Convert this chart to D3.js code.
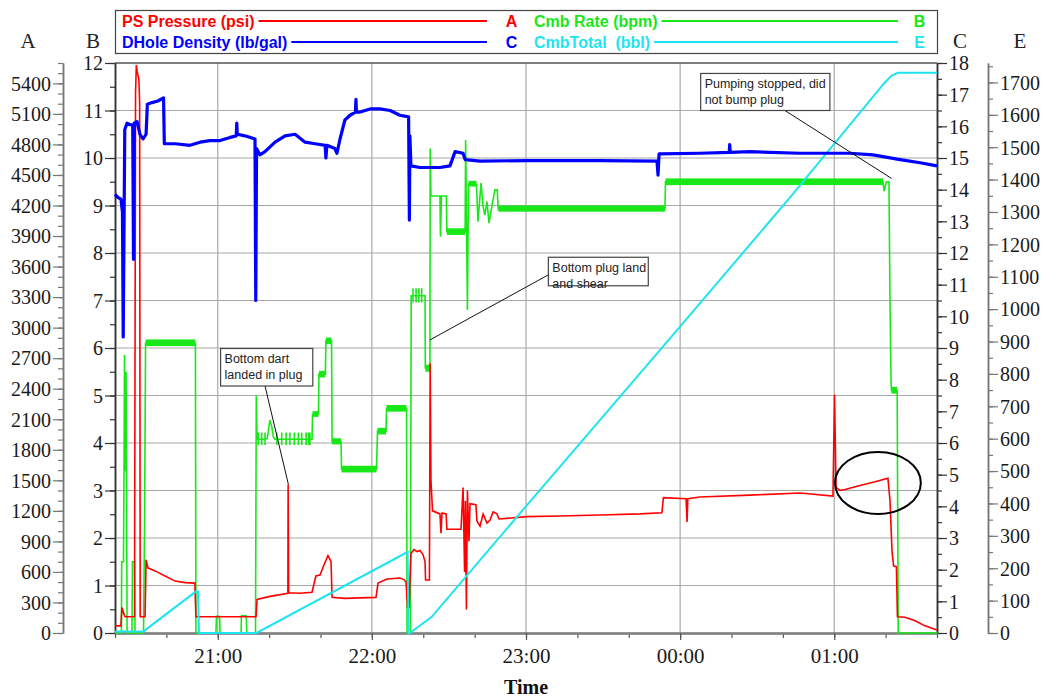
<!DOCTYPE html>
<html>
<head>
<meta charset="utf-8">
<script src="https://cdn.jsdelivr.net/npm/d3@7"></script>
<style>
  body { margin: 0; background: #fff; }
  svg { display: block; }
</style>
</head>
<body>
<svg id="chart" width="1047" height="698"></svg>
<script>
// ---- Data: times are minutes after 20:00 (values past 240 run into the next day) ----
const timeDomain = [20, 340];               // 20:20 -> 01:40

// PS Pressure (psi), left axis A
const pressure = [
  [20.0,70],[22.3,70],[22.7,250],[23.3,200],[23.9,160],[27.6,160],[28.0,5300],[28.3,5580],
  [28.6,5520],[29.3,5440],[29.6,5200],[29.8,160],[31.7,160],[32.1,720],[32.8,640],[35.6,610],
  [39.5,560],[43.4,510],[47.3,495],[51.1,490],[51.5,160],[74.9,160],[75.3,330],[80.3,360],
  [87.3,390],[87.4,1460],[87.6,395],[92.0,390],[96.7,400],[98.2,560],[99.8,570],[101.7,690],
  [102.9,760],[104.1,700],[104.5,350],[109.5,340],[115.4,345],[121.6,350],[122.4,490],
  [125.9,530],[130.9,540],[132.5,525],[133.3,500],[133.9,250],[134.5,250],[135.2,780],
  [136.4,820],[137.6,800],[138.7,810],[139.9,770],[140.7,700],[140.9,520],[142.4,520],
  [142.7,2650],[143.0,1500],[143.6,1200],[146.5,1170],[146.9,980],[147.3,1180],[148.9,1170],
  [149.2,1020],[154.7,1020],[155.5,1430],[156.1,600],[156.4,1300],[156.8,230],[157.2,1400],
  [157.8,900],[158.2,1270],[160.5,1260],[160.9,1100],[162.1,1050],[163.3,1170],[164.8,1080],
  [166.0,1110],[167.2,1190],[168.7,1170],[169.5,1120],[180.4,1143],[193.2,1150],[208.8,1160],
  [224.4,1170],[232.9,1182],[233.5,1330],[242.3,1320],[242.7,1090],[243.0,1320],[247.7,1336],
  [267.2,1355],[286.7,1375],[299.5,1345],[300.1,2340],[300.7,1430],[302.2,1400],[304.2,1410],
  [310.0,1450],[315.9,1485],[320.9,1520],[321.7,1300],[322.5,800],[323.1,660],[324.2,650],
  [324.6,160],[327.5,155],[331.5,120],[335.3,70],[340.0,30]
];

// Cmb Rate (bpm), axis B
const rate = [
  [20.0,0],[22.5,0],[22.6,1.5],[23.3,1.5],[23.5,3.4],[23.7,5.85],[24.0,3.4],[24.3,5.5],
  [24.5,3.4],[24.7,0],[26.6,0],[26.8,1.5],[27.6,1.5],[27.8,0],[31.1,0],[31.5,2.2],[31.9,6.1],
  [51.3,6.1],[51.5,0],[59.3,0],[59.5,0.35],[60.7,0.35],[60.9,0],[69.1,0],[69.2,0.36],
  [71.1,0.36],[71.3,0],[74.7,0],[75.0,5.0],[75.3,4.08],
  [75.8,4.08],[75.8,4.22],[75.8,3.96],[75.8,4.08],
  [77.1,4.08],[77.1,4.22],[77.1,3.96],[77.1,4.08],
  [78.4,4.08],[78.4,4.22],[78.4,3.96],[78.4,4.08],
  [79.3,4.1],[79.8,4.3],[80.3,4.48],[81.0,4.35],[81.7,4.12],[82.3,4.08],
  [83.0,4.08],[83.0,4.22],[83.0,3.96],[83.0,4.08],
  [84.9,4.08],[84.9,4.22],[84.9,3.96],[84.9,4.08],
  [86.6,4.08],[86.6,4.22],[86.6,3.96],[86.6,4.08],
  [88.1,4.08],[88.1,4.22],[88.1,3.96],[88.1,4.08],
  [89.8,4.08],[89.8,4.22],[89.8,3.96],[89.8,4.08],
  [91.4,4.08],[91.4,4.22],[91.4,3.96],[91.4,4.08],
  [92.7,4.08],[92.7,4.22],[92.7,3.96],[92.7,4.08],
  [94.4,4.08],[94.4,4.22],[94.4,3.96],[94.4,4.08],
  [95.3,4.08],[95.3,4.22],[95.3,3.96],[95.3,4.08],
  [95.9,4.08],[95.9,4.22],[95.9,3.96],[95.9,4.08],
  [96.7,4.08],[96.9,4.6],[99.2,4.6],[99.4,5.45],[101.9,5.45],[102.1,6.15],[104.3,6.15],
  [104.5,4.03],[108.0,4.03],[108.2,3.45],[121.8,3.45],[122.2,4.25],[125.5,4.25],[125.7,4.73],
  [133.5,4.73],[133.7,0],[135.0,0],[135.3,7.1],
  [136.0,7.1],[136.0,7.26],[136.0,6.96],[136.0,7.1],
  [137.2,7.1],[137.2,7.26],[137.2,6.96],[137.2,7.1],
  [138.3,7.1],[138.3,7.26],[138.3,6.96],[138.3,7.1],
  [139.4,7.1],[139.4,7.26],[139.4,6.96],[139.4,7.1],
  [140.7,7.1],[140.8,5.58],[142.6,5.58],[142.7,10.2],[143.0,9.2],[146.5,9.2],[146.7,8.34],
  [147.1,9.2],[149.0,9.2],[149.2,8.45],[156.3,8.45],[156.5,10.38],[157.2,6.8],[157.6,9.45],
  [160.7,9.45],[161.3,8.66],[162.5,9.47],[163.3,8.97],[164.0,8.8],[164.8,9.08],[165.6,8.63],
  [166.6,8.95],[167.9,9.33],[168.8,9.33],[169.2,8.93],[234.1,8.93],[234.3,9.5],[319.0,9.5],
  [319.4,9.3],[320.3,9.5],[321.3,9.5],[321.7,7.0],[322.1,5.3],[322.3,5.1],[324.5,5.1],
  [324.9,0],[340.0,0]
];

// Stretches where the rate flickers between two readings: [start, end, low, high]
const rateBands = [
  [31.9,51.3,6.04,6.18],[96.9,99.2,4.55,4.67],[99.4,101.9,5.38,5.52],[102.1,104.3,6.08,6.22],
  [104.5,108.0,3.97,4.10],[108.2,121.8,3.38,3.52],[122.2,125.5,4.18,4.32],[125.7,133.5,4.66,4.80],
  [140.8,142.6,5.50,5.65],[149.2,156.3,8.38,8.52],[157.6,160.7,9.40,9.52],[169.2,234.1,8.87,9.00],
  [234.3,319.0,9.43,9.57],[322.3,324.5,5.04,5.18]
];

// DHole Density (lb/gal), right axis C
const density = [
  [20.0,13.85],[21.2,13.75],[22.3,13.7],[22.9,13.3],[23.2,9.35],[23.8,15.9],[24.7,16.1],
  [25.8,16.05],[26.9,16.05],[27.2,11.8],[27.5,16.1],[28.6,16.15],[29.7,15.75],[30.9,15.6],
  [32.1,15.75],[32.6,16.7],[34.4,16.75],[36.7,16.8],[38.9,16.9],[39.2,15.45],[43.4,15.45],
  [49.2,15.4],[53.1,15.5],[57.0,15.55],[60.9,15.55],[64.8,15.65],[67.2,15.7],[67.4,16.1],
  [67.6,15.75],[70.6,15.7],[74.5,15.6],[74.8,10.5],[75.1,15.3],[76.4,15.1],[78.4,15.2],
  [82.3,15.5],[86.2,15.7],[90.1,15.75],[94.0,15.5],[97.9,15.45],[101.8,15.4],[102.1,15.0],
  [102.5,15.4],[105.6,15.3],[106.4,15.15],[107.6,15.6],[109.5,16.2],[111.5,16.35],
  [113.6,16.45],[113.8,16.85],[114.0,16.45],[115.4,16.45],[119.3,16.55],[123.2,16.55],
  [127.1,16.5],[130.9,16.35],[134.3,16.3],[134.6,13.04],[134.8,15.7],[135.2,14.75],
  [138.7,14.7],[146.5,14.7],[150.4,14.75],[152.4,15.2],[155.5,15.15],[156.3,14.95],
  [162.1,14.9],[180.4,14.92],[208.8,14.92],[231.0,14.9],[231.4,14.46],[231.8,15.13],
  [247.7,15.15],[259.1,15.18],[259.3,15.42],[259.5,15.18],[267.2,15.2],[286.7,15.15],
  [306.1,15.15],[315.1,15.1],[325.6,14.95],[333.4,14.85],[340.0,14.75]
];

// CmbTotal (bbl), far right axis E
const cmbTotal = [
  [20.0,5],[31.1,5],[51.3,127],[52.3,127],[52.7,0],[75.1,0],[133.9,250],[134.3,0],[134.8,0],
  [143.3,50],[180.4,395],[239.9,945],[282.8,1345],[319.7,1700],[322.5,1722],[324.8,1730],
  [340.0,1730]
];

// Axis tick values
const ticksA = d3.range(0, 5401, 300), minorA = d3.range(0, 5601, 100);
const ticksB = d3.range(0, 13, 1),     minorB = d3.range(0, 12.01, 0.5);
const ticksC = d3.range(0, 19, 1),     minorC = d3.range(0, 18.01, 0.5);
const ticksE = d3.range(0, 1701, 100), minorE = d3.range(0, 1751, 50);

// Event notes: box corners in (minutes, bpm), leader from box edge to a data point
const notes = [
  { lines: ["Pumping stopped, did", "not bump plug"], box: [248.0, 11.78, 298.3, 11.0],
    from: [280.8, 11.0], to: [322.3, "B", 9.57] },
  { lines: ["Bottom plug land", "and shear"], box: [188.7, 7.91, 227.6, 7.31],
    from: [188.7, 7.54], to: [142.6, "B", 6.17] },
  { lines: ["Bottom dart", "landed in plug"], box: [61.1, 5.99, 97.0, 5.20],
    from: [78.4, 5.20], to: [87.5, "A", 1460] }
];
// Pressure rise after pumping resumed, circled: centre (minutes, psi) and half-extents
const circled = { t: 317.0, p: 1474, dt: 16.7, dp: 305 };

// ---- Layout ----
const L = 115, R = 937, T = 63, B = 633;
const col = { A: "#ff0000", B: "#18e818", C: "#0000ff", E: "#1ee4f0" };
const serif = "'Liberation Serif', 'Times New Roman', serif";
const sans = "'Liberation Sans', Arial, sans-serif";

const base = new Date(2021, 0, 1, 20, 0, 0).getTime();
const toDate = m => new Date(base + m * 60000);

const x = d3.scaleTime().domain(timeDomain.map(toDate)).range([L, R]);
const yA = d3.scaleLinear().domain([0, 5600]).range([B, T]);
const yB = d3.scaleLinear().domain([0, 12]).range([B, T]);
const yC = d3.scaleLinear().domain([0, 18]).range([B, T]);
const yE = d3.scaleLinear().domain([0, 1760]).range([B, T]);
const yOf = { A: yA, B: yB, C: yC, E: yE };

const svg = d3.select("#chart");

// Grid
const grid = svg.append("g");
grid.selectAll("line.h").data(d3.range(1, 12)).join("line")
  .attr("x1", L).attr("x2", R).attr("y1", d => yB(d)).attr("y2", d => yB(d))
  .attr("stroke", "#a8a8a8").attr("stroke-width", 1.2);
grid.selectAll("line.v").data(x.ticks(d3.timeHour.every(1))).join("line")
  .attr("x1", d => x(d)).attr("x2", d => x(d)).attr("y1", T).attr("y2", B)
  .attr("stroke", "#a8a8a8").attr("stroke-width", 1.2);
grid.append("line").attr("x1", L).attr("x2", R).attr("y1", T).attr("y2", T)
  .attr("stroke", "#555").attr("stroke-width", 1.5);

// Axes helper
function styleAxis(g, color) {
  g.attr("font-family", serif).attr("font-size", 20);
  g.selectAll("path.domain").attr("stroke", color).attr("stroke-width", 1.5);
  g.selectAll(".tick line").attr("stroke", color).attr("stroke-width", 1.2);
  g.selectAll(".tick text").attr("fill", "#1a1a1a");
}
function vAxis(gen, scale, major, minor, xPos, color, pad) {
  const g1 = svg.append("g").attr("transform", `translate(${xPos},0)`)
    .call(gen(scale).tickValues(minor).tickSize(5).tickSizeOuter(0).tickFormat(""));
  styleAxis(g1, color);
  const g2 = svg.append("g").attr("transform", `translate(${xPos},0)`)
    .call(gen(scale).tickValues(major).tickSize(10).tickSizeOuter(0).tickPadding(pad).tickFormat(d3.format("d")));
  styleAxis(g2, color);
  g2.selectAll(".tick text").attr("dy", "0.34em");
}
vAxis(d3.axisLeft, yA, ticksA, minorA, 63, "#777", 2);
vAxis(d3.axisLeft, yB, ticksB, minorB, L, "#333", 2);
vAxis(d3.axisRight, yC, ticksC, minorC, R, "#333", 2);
vAxis(d3.axisRight, yE, ticksE, minorE, 988, "#777", 2);

// Time axis
const gxMinor = svg.append("g").attr("transform", `translate(0,${B})`)
  .call(d3.axisBottom(x).ticks(d3.timeMinute.every(20)).tickSize(5).tickSizeOuter(0).tickFormat(""));
styleAxis(gxMinor, "#555");
const gx = svg.append("g").attr("transform", `translate(0,${B})`)
  .call(d3.axisBottom(x).ticks(d3.timeHour.every(1)).tickSize(7).tickSizeOuter(0)
    .tickPadding(8).tickFormat(d3.timeFormat("%H:%M")));
styleAxis(gx, "#555");
gx.selectAll("path.domain").attr("stroke", "#808080").attr("stroke-width", 2.5);
gx.selectAll(".tick text").attr("font-size", 21);

svg.append("text").attr("x", 526).attr("y", 694).attr("text-anchor", "middle")
  .attr("font-family", serif).attr("font-size", 20).attr("font-weight", "bold")
  .attr("fill", "#111").text("Time");

// Axis letters
[["A", 28], ["B", 93], ["C", 960], ["E", 1020]].forEach(([s, px]) =>
  svg.append("text").attr("x", px).attr("y", 48).attr("text-anchor", "middle")
    .attr("font-family", serif).attr("font-size", 21).attr("fill", "#222").text(s));

// Series
const plot = svg.append("g");
const line = sc => d3.line().x(d => x(toDate(d[0]))).y(d => sc(d[1]));

plot.append("g").selectAll("rect").data(rateBands).join("rect")
  .attr("x", d => x(toDate(d[0]))).attr("width", d => x(toDate(d[1])) - x(toDate(d[0])))
  .attr("y", d => yB(d[3])).attr("height", d => yB(d[2]) - yB(d[3]))
  .attr("fill", col.B);
plot.append("path").datum(rate).attr("d", line(yB))
  .attr("fill", "none").attr("stroke", col.B).attr("stroke-width", 1.6);

plot.append("path").datum(pressure).attr("d", line(yA))
  .attr("fill", "none").attr("stroke", col.A).attr("stroke-width", 1.6);

plot.append("path").datum(cmbTotal).attr("d", line(yE))
  .attr("fill", "none").attr("stroke", col.E).attr("stroke-width", 2);

plot.append("path").datum(density).attr("d", line(yC))
  .attr("fill", "none").attr("stroke", col.C).attr("stroke-width", 3.2)
  .attr("stroke-linejoin", "round");

// Notes
const ng = svg.append("g");
notes.forEach(n => {
  const x0 = x(toDate(n.box[0])), y0 = yB(n.box[1]);
  const x1 = x(toDate(n.box[2])), y1 = yB(n.box[3]);
  ng.append("line")
    .attr("x1", x(toDate(n.from[0]))).attr("y1", yB(n.from[1]))
    .attr("x2", x(toDate(n.to[0]))).attr("y2", yOf[n.to[1]](n.to[2]))
    .attr("stroke", "#111").attr("stroke-width", 1);
  ng.append("rect").attr("x", x0).attr("y", y0).attr("width", x1 - x0).attr("height", y1 - y0)
    .attr("fill", "#fff").attr("stroke", "#444").attr("stroke-width", 1.2);
  n.lines.forEach((s, i) => ng.append("text").attr("x", x0 + 4).attr("y", y0 + 15 + i * 15.5)
    .attr("font-family", sans).attr("font-size", 12.5).attr("fill", "#222").text(s));
});
ng.append("ellipse")
  .attr("cx", x(toDate(circled.t))).attr("cy", yA(circled.p))
  .attr("rx", x(toDate(circled.t + circled.dt)) - x(toDate(circled.t)))
  .attr("ry", yA(circled.p - circled.dp) - yA(circled.p))
  .attr("fill", "none").attr("stroke", "#000").attr("stroke-width", 2);

// Legend
const legend = [
  { name: "PS Pressure (psi)", c: col.A, key: "A", col: 0, row: 0 },
  { name: "Cmb Rate (bpm)", c: col.B, key: "B", col: 1, row: 0 },
  { name: "DHole Density (lb/gal)", c: col.C, key: "C", col: 0, row: 1 },
  { name: "CmbTotal  (bbl)", c: col.E, key: "E", col: 1, row: 1 }
];
const lg = svg.append("g");
lg.append("rect").attr("x", 115.5).attr("y", 10.5).attr("width", 822).attr("height", 43)
  .attr("fill", "#fff").attr("stroke", "#444").attr("stroke-width", 1.2);
const colX = [[122, 487, 511.5], [534, 898, 919.5]];
legend.forEach(e => {
  const [tx, lx1, kx] = colX[e.col];
  const cy = 21 + e.row * 21;
  const t = lg.append("text").attr("x", tx).attr("y", cy + 5.5)
    .attr("font-family", sans).attr("font-size", 16).attr("font-weight", "bold")
    .attr("fill", e.c).style("white-space", "pre").text(e.name);
  const w = t.node().getComputedTextLength();
  lg.append("line").attr("x1", tx + w + 4).attr("x2", lx1).attr("y1", cy).attr("y2", cy)
    .attr("stroke", e.c).attr("stroke-width", 2);
  lg.append("text").attr("x", kx).attr("y", cy + 5.5).attr("text-anchor", "middle")
    .attr("font-family", sans).attr("font-size", 16).attr("font-weight", "bold")
    .attr("fill", e.c).text(e.key);
});
</script>
</body>
</html>
